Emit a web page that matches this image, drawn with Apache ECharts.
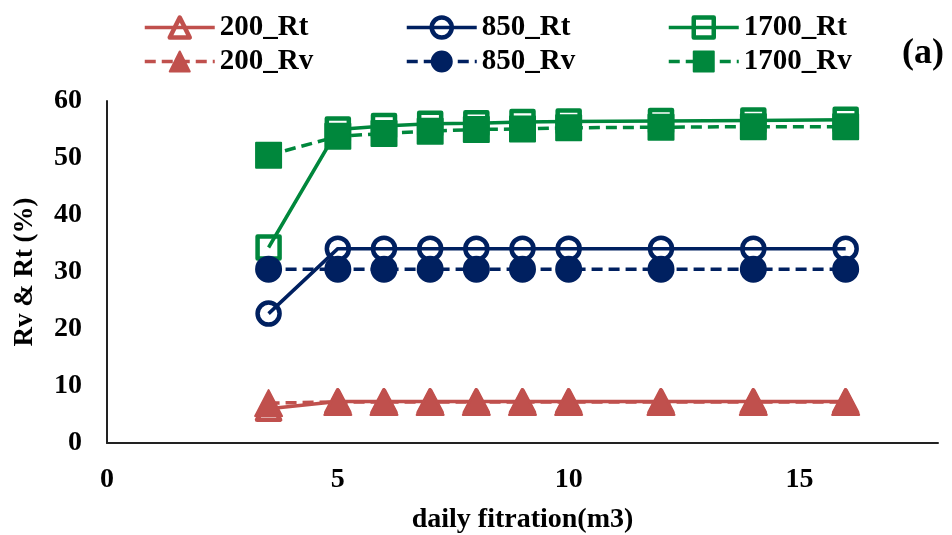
<!DOCTYPE html>
<html><head><meta charset="utf-8">
<script src="https://cdn.jsdelivr.net/npm/echarts@6/dist/echarts.min.js"></script>
<style>html,body{margin:0;padding:0;background:#fff}#c{width:952px;height:535px}</style>
</head><body><div id="c"></div>
<script>
// ---- data ----
const xValues = [3.5, 5, 6, 7, 8, 9, 10, 12, 14, 16];
const rt200  = [6.0, 7.3, 7.3, 7.3, 7.3, 7.3, 7.3, 7.3, 7.3, 7.3];
const rv200  = [7.0, 7.2, 7.2, 7.2, 7.2, 7.2, 7.2, 7.2, 7.2, 7.2];
const rt850  = [22.7, 34.1, 34.1, 34.1, 34.1, 34.1, 34.1, 34.1, 34.1, 34.1];
const rv850  = [30.5, 30.5, 30.5, 30.5, 30.5, 30.5, 30.5, 30.5, 30.5, 30.5];
const rt1700 = [34.3, 55.0, 55.6, 56.0, 56.1, 56.3, 56.4, 56.5, 56.6, 56.7];
const rv1700 = [50.5, 53.8, 54.3, 54.7, 55.0, 55.1, 55.3, 55.4, 55.5, 55.5];
const xTicks = [0, 5, 10, 15];
const yTicks = [0, 10, 20, 30, 40, 50, 60];
const xMax = 18;

const FONT = '"Liberation Serif", "Times New Roman", serif';
const RED = '#C0504D', NAVY = '#002060', GREEN = '#00873C';

function pairs(vals) { return xValues.map((x, i) => [x, vals[i]]); }

function mk(name, vals, color, symbol, hollow, dashed) {
  const isTri = symbol === 'triangle';
  return {
    name, type: 'line', data: pairs(vals),
    symbol,
    symbolSize: hollow ? (isTri ? [23, 22] : 22) : (isTri ? [27, 26] : 25),
    showAllSymbol: true,
    lineStyle: { color, width: 3.5, type: dashed ? [11, 6] : 'solid' },
    itemStyle: hollow
      ? { color: 'rgba(255,255,255,0)', borderColor: color, borderWidth: 4.5, borderJoin: 'round' }
      : { color, borderColor: color, borderWidth: 2, borderJoin: 'round' },
    emphasis: { disabled: true },
    z: dashed ? 3 : 2
  };
}

const series = [
  mk('200_Rt', rt200, RED, 'triangle', true, false),
  mk('850_Rt', rt850, NAVY, 'circle', true, false),
  mk('1700_Rt', rt1700, GREEN, 'rect', true, false),
  mk('200_Rv', rv200, RED, 'triangle', false, true),
  mk('850_Rv', rv850, NAVY, 'circle', false, true),
  mk('1700_Rv', rv1700, GREEN, 'rect', false, true)
];

const legendBase = {
  orient: 'vertical', top: 13, itemWidth: 70, itemHeight: 25, itemGap: 5,
  padding: 0, selectedMode: false,
  lineStyle: { width: 'inherit', type: 'inherit' },
  itemStyle: { borderWidth: 'inherit' },
  textStyle: { fontFamily: FONT, fontSize: 29, fontWeight: 'bold', color: '#000' }
};

const chart = echarts.init(document.getElementById('c'), null, { renderer: 'canvas' });
chart.setOption({
  animation: false,
  backgroundColor: '#fff',
  title: {
    text: '(a)', left: 902, top: 36, padding: 0,
    textStyle: { fontFamily: FONT, fontSize: 36, fontWeight: 'bold', color: '#000' }
  },
  legend: [
    Object.assign({}, legendBase, { left: 143, data: ['200_Rt', '200_Rv'] }),
    Object.assign({}, legendBase, { left: 405, data: ['850_Rt', '850_Rv'] }),
    Object.assign({}, legendBase, { left: 667, data: ['1700_Rt', '1700_Rv'] })
  ],
  grid: { left: 107, right: 14, top: 101, bottom: 92, containLabel: false, outerBoundsMode: 'none' },
  xAxis: {
    type: 'value', min: xTicks[0], max: xMax, interval: xTicks[1] - xTicks[0],
    name: 'daily fitration(m3)', nameLocation: 'middle', nameGap: 63,
    nameTextStyle: { fontFamily: FONT, fontSize: 28, fontWeight: 'bold', color: '#000' },
    axisLine: { show: true, lineStyle: { color: '#222', width: 2 } },
    axisTick: { show: false },
    splitLine: { show: false },
    axisLabel: {
      fontFamily: FONT, fontSize: 28, fontWeight: 'bold', color: '#000', margin: 23,
      showMaxLabel: false,
      formatter: v => (xTicks.indexOf(v) >= 0 ? String(v) : '')
    }
  },
  yAxis: {
    type: 'value', min: yTicks[0], max: yTicks[yTicks.length - 1], interval: yTicks[1] - yTicks[0],
    name: 'Rv & Rt (%)', nameLocation: 'middle', nameGap: 68, nameRotate: 90,
    nameTextStyle: { fontFamily: FONT, fontSize: 27, fontWeight: 'bold', color: '#000' },
    axisLine: { show: true, lineStyle: { color: '#222', width: 2 } },
    axisTick: { show: false },
    splitLine: { show: false },
    axisLabel: { fontFamily: FONT, fontSize: 28, fontWeight: 'bold', color: '#000', margin: 25 }
  },
  series
});
</script>
</body></html>
